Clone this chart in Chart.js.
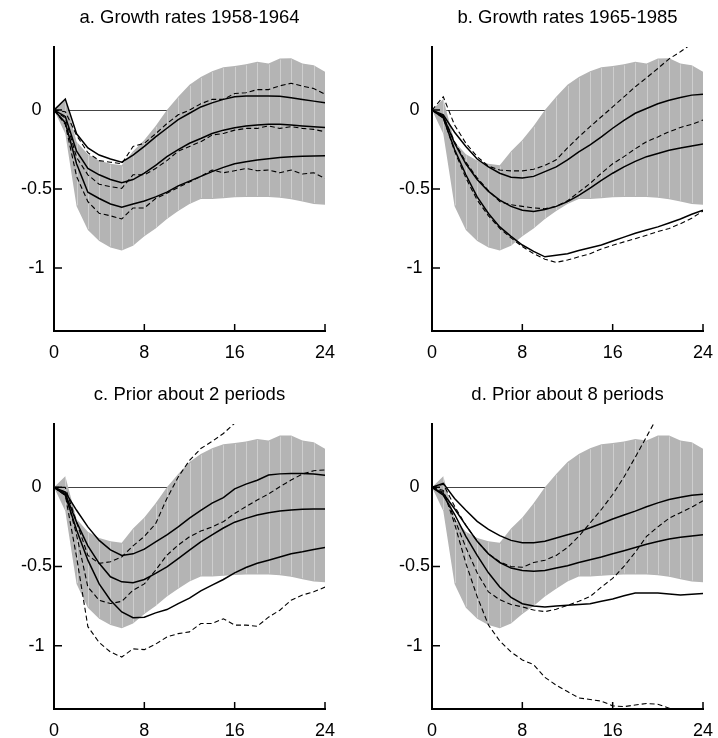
<!DOCTYPE html>
<html>
<head>
<meta charset="utf-8">
<script src="https://cdn.jsdelivr.net/npm/chart.js@4.4.0/dist/chart.umd.min.js"></script>
<style>
  html, body { margin: 0; padding: 0; background: #fff; }
  #wrap { position: relative; width: 718px; height: 738px; overflow: hidden; }
  #wrap canvas { position: absolute; }
</style>
</head>
<body>
<div id="wrap">
  <canvas id="panel-a" width="340" height="360" style="left:0;top:0"></canvas>
  <canvas id="panel-b" width="340" height="360" style="left:378px;top:0"></canvas>
  <canvas id="panel-c" width="340" height="361" style="left:0;top:377px"></canvas>
  <canvas id="panel-d" width="340" height="361" style="left:378px;top:377px"></canvas>
</div>
<script>
/* Impulse responses, 0-24 periods ahead, four panels sharing the same grey band */

const periods = [0, 1, 2, 3, 4, 5, 6, 7, 8, 9, 10, 11, 12, 13, 14, 15, 16, 17, 18, 19, 20, 21, 22, 23, 24];
const xTicks = [0, 8, 16, 24];
const yTicks = [-1, -0.5, 0];

// grey band (same in every panel)
const bandUpper = [0, 0.07, -0.2, -0.28, -0.32, -0.34, -0.35, -0.26, -0.19, -0.1, 0.0, 0.085, 0.16, 0.21, 0.247, 0.272, 0.28, 0.29, 0.306, 0.296, 0.327, 0.328, 0.296, 0.285, 0.243];
const bandLower = [0, -0.15, -0.61, -0.76, -0.83, -0.87, -0.89, -0.86, -0.8, -0.75, -0.69, -0.64, -0.595, -0.563, -0.563, -0.558, -0.553, -0.55, -0.55, -0.55, -0.555, -0.565, -0.58, -0.595, -0.6];

// a. Growth rates 1958-1964
const aSolidTop = [0, 0.07, -0.15, -0.24, -0.285, -0.31, -0.33, -0.285, -0.23, -0.17, -0.115, -0.06, -0.02, 0.02, 0.046, 0.068, 0.084, 0.09, 0.09, 0.09, 0.088, 0.078, 0.068, 0.057, 0.046];
const aSolidMid = [0, -0.04, -0.26, -0.37, -0.41, -0.44, -0.46, -0.44, -0.4, -0.35, -0.295, -0.25, -0.21, -0.18, -0.148, -0.127, -0.112, -0.1, -0.095, -0.09, -0.09, -0.095, -0.1, -0.105, -0.11];
const aSolidLow = [0, -0.08, -0.34, -0.52, -0.56, -0.595, -0.615, -0.595, -0.576, -0.55, -0.52, -0.48, -0.45, -0.42, -0.39, -0.363, -0.34, -0.327, -0.316, -0.308, -0.3, -0.295, -0.293, -0.291, -0.289];
const aDashTop = [0, -0.01, -0.16, -0.27, -0.32, -0.33, -0.34, -0.23, -0.21, -0.15, -0.085, -0.03, 0.0, 0.04, 0.068, 0.068, 0.105, 0.11, 0.13, 0.13, 0.154, 0.17, 0.152, 0.137, 0.1];
const aDashMid = [0, -0.05, -0.3, -0.41, -0.47, -0.485, -0.496, -0.41, -0.41, -0.37, -0.32, -0.26, -0.23, -0.2, -0.158, -0.148, -0.127, -0.116, -0.116, -0.1, -0.116, -0.105, -0.116, -0.122, -0.137];
const aDashLow = [0, -0.09, -0.42, -0.58, -0.654, -0.67, -0.69, -0.62, -0.62, -0.56, -0.527, -0.49, -0.455, -0.42, -0.38, -0.397, -0.384, -0.37, -0.384, -0.38, -0.397, -0.38, -0.405, -0.397, -0.432];

// b. Growth rates 1965-1985
const bSolidTop = [0, -0.03, -0.14, -0.23, -0.31, -0.36, -0.4, -0.425, -0.43, -0.42, -0.39, -0.36, -0.315, -0.265, -0.22, -0.17, -0.115, -0.065, -0.02, 0.01, 0.04, 0.063, 0.08, 0.095, 0.1];
const bSolidMid = [0, -0.04, -0.21, -0.34, -0.44, -0.515, -0.57, -0.61, -0.635, -0.643, -0.63, -0.61, -0.58, -0.54, -0.495, -0.445, -0.4, -0.36, -0.325, -0.295, -0.275, -0.255, -0.24, -0.227, -0.215];
const bSolidLow = [0, -0.05, -0.25, -0.41, -0.55, -0.655, -0.74, -0.8, -0.855, -0.895, -0.93, -0.92, -0.91, -0.89, -0.873, -0.855, -0.83, -0.805, -0.78, -0.76, -0.74, -0.715, -0.69, -0.66, -0.634];
const bDashTop = [0, 0.085, -0.095, -0.21, -0.295, -0.355, -0.38, -0.385, -0.385, -0.375, -0.35, -0.315, -0.24, -0.17, -0.105, -0.042, 0.02, 0.084, 0.148, 0.205, 0.264, 0.325, 0.37, 0.42, 0.47];
const bDashMid = [0, -0.04, -0.2, -0.33, -0.43, -0.51, -0.58, -0.6, -0.61, -0.62, -0.625, -0.61, -0.575, -0.52, -0.465, -0.4, -0.34, -0.295, -0.245, -0.2, -0.17, -0.137, -0.11, -0.09, -0.063];
const bDashLow = [0, -0.05, -0.26, -0.43, -0.57, -0.67, -0.75, -0.81, -0.865, -0.91, -0.945, -0.965, -0.95, -0.93, -0.91, -0.88, -0.857, -0.835, -0.815, -0.793, -0.77, -0.75, -0.72, -0.685, -0.64];

// c. Prior about 2 periods
const cSolidTop = [0, -0.03, -0.145, -0.25, -0.335, -0.395, -0.43, -0.42, -0.39, -0.345, -0.3, -0.25, -0.195, -0.145, -0.1, -0.065, -0.01, 0.02, 0.045, 0.078, 0.085, 0.088, 0.088, 0.084, 0.076];
const cSolidMid = [0, -0.04, -0.22, -0.37, -0.48, -0.565, -0.597, -0.603, -0.582, -0.544, -0.502, -0.45, -0.397, -0.344, -0.3, -0.257, -0.22, -0.196, -0.175, -0.16, -0.15, -0.143, -0.139, -0.137, -0.137];
const cSolidLow = [0, -0.05, -0.27, -0.46, -0.61, -0.713, -0.787, -0.823, -0.82, -0.793, -0.772, -0.734, -0.7, -0.654, -0.618, -0.582, -0.54, -0.506, -0.48, -0.46, -0.44, -0.42, -0.407, -0.392, -0.38];
const cDashTop = [0, 0.0, -0.22, -0.43, -0.48, -0.47, -0.44, -0.37, -0.31, -0.23, -0.07, 0.065, 0.17, 0.245, 0.29, 0.34, 0.405, 0.47, null, null, null, null, null, null, null];
const cDashMid = [0, -0.03, -0.3, -0.63, -0.713, -0.734, -0.72, -0.65, -0.61, -0.523, -0.428, -0.365, -0.312, -0.276, -0.25, -0.217, -0.165, -0.122, -0.08, -0.042, 0.004, 0.046, 0.084, 0.105, 0.11];
const cDashLow = [0, -0.05, -0.44, -0.88, -0.98, -1.04, -1.072, -1.02, -1.025, -0.99, -0.945, -0.924, -0.913, -0.86, -0.86, -0.83, -0.87, -0.87, -0.878, -0.82, -0.776, -0.713, -0.68, -0.66, -0.63];

// d. Prior about 8 periods
const dSolidTop = [0, 0.025, -0.07, -0.145, -0.215, -0.265, -0.305, -0.335, -0.35, -0.35, -0.34, -0.32, -0.3, -0.28, -0.255, -0.228, -0.2, -0.175, -0.15, -0.123, -0.098, -0.077, -0.062, -0.05, -0.043];
const dSolidMid = [0, -0.04, -0.135, -0.24, -0.34, -0.42, -0.475, -0.51, -0.525, -0.53, -0.525, -0.51, -0.495, -0.475, -0.458, -0.44, -0.42, -0.4, -0.38, -0.36, -0.342, -0.327, -0.315, -0.307, -0.3];
const dSolidLow = [0, -0.05, -0.17, -0.31, -0.43, -0.54, -0.63, -0.695, -0.735, -0.75, -0.755, -0.75, -0.745, -0.74, -0.735, -0.72, -0.705, -0.685, -0.668, -0.668, -0.668, -0.673, -0.68, -0.675, -0.67];
const dDashTop = [0, 0.02, -0.12, -0.24, -0.34, -0.42, -0.47, -0.5, -0.505, -0.475, -0.46, -0.43, -0.38, -0.31, -0.225, -0.14, -0.045, 0.065, 0.19, 0.32, 0.45, null, null, null, null];
const dDashMid = [0, -0.03, -0.2, -0.38, -0.54, -0.66, -0.71, -0.74, -0.755, -0.775, -0.785, -0.77, -0.745, -0.72, -0.69, -0.63, -0.575, -0.5, -0.41, -0.31, -0.25, -0.195, -0.16, -0.125, -0.085];
const dDashLow = [0, -0.02, -0.23, -0.48, -0.69, -0.87, -0.97, -1.04, -1.09, -1.12, -1.2, -1.25, -1.29, -1.33, -1.34, -1.35, -1.38, -1.385, -1.375, -1.365, -1.37, -1.395, -1.43, -1.46, -1.49];

const panels = [
  { id: 'panel-a', title: 'a. Growth rates 1958-1964', solid: [aSolidTop, aSolidMid, aSolidLow], dashed: [aDashTop, aDashMid, aDashLow] },
  { id: 'panel-b', title: 'b. Growth rates 1965-1985', solid: [bSolidTop, bSolidMid, bSolidLow], dashed: [bDashTop, bDashMid, bDashLow] },
  { id: 'panel-c', title: 'c. Prior about 2 periods', solid: [cSolidTop, cSolidMid, cSolidLow], dashed: [cDashTop, cDashMid, cDashLow] },
  { id: 'panel-d', title: 'd. Prior about 8 periods', solid: [dSolidTop, dSolidMid, dSolidLow], dashed: [dDashTop, dDashMid, dDashLow] }
];

const toPoints = vals => periods.map((p, i) => ({ x: p, y: vals[i] }));

// zero line under the band, light seams in the band, inward tick marks
const panelDecor = {
  id: 'panelDecor',
  beforeDatasetsDraw(chart) {
    const { ctx, chartArea, scales: { y } } = chart;
    const y0 = Math.round(y.getPixelForValue(0)) + 0.5;
    ctx.save();
    ctx.strokeStyle = '#444';
    ctx.lineWidth = 1;
    ctx.beginPath();
    ctx.moveTo(chartArea.left, y0);
    ctx.lineTo(chartArea.right, y0);
    ctx.stroke();
    ctx.restore();
  },
  afterDatasetDraw(chart, args) {
    if (args.index !== 0) return;
    const { ctx, scales: { x, y } } = chart;
    ctx.save();
    ctx.strokeStyle = 'rgba(255,255,255,0.35)';
    ctx.lineWidth = 1;
    periods.forEach((p, i) => {
      if (i === 0 || i === periods.length - 1) return;
      const px = Math.round(x.getPixelForValue(p)) + 0.5;
      ctx.beginPath();
      ctx.moveTo(px, y.getPixelForValue(bandUpper[i]) + 1);
      ctx.lineTo(px, y.getPixelForValue(bandLower[i]) - 1);
      ctx.stroke();
    });
    ctx.restore();
  },
  afterDraw(chart) {
    const { ctx, chartArea, scales: { x, y } } = chart;
    ctx.save();
    ctx.strokeStyle = '#000';
    ctx.lineWidth = 1.5;
    ctx.beginPath();
    xTicks.forEach(v => {
      if (v === 0) return;
      const px = x.getPixelForValue(v);
      ctx.moveTo(px, chartArea.bottom);
      ctx.lineTo(px, chartArea.bottom - 7);
    });
    yTicks.forEach(v => {
      const py = y.getPixelForValue(v);
      ctx.moveTo(chartArea.left, py);
      ctx.lineTo(chartArea.left + 8, py);
    });
    ctx.stroke();
    ctx.restore();
  }
};

Chart.defaults.font.family = "'Liberation Sans', Arial, sans-serif";
Chart.defaults.color = '#000';

function makePanel(panel) {
  const lineSets = [];
  panel.solid.forEach(vals => lineSets.push({
    data: toPoints(vals), borderColor: '#000', borderWidth: 1.5,
    pointRadius: 0, fill: false, order: 0
  }));
  panel.dashed.forEach(vals => lineSets.push({
    data: toPoints(vals), borderColor: '#000', borderWidth: 1.1, borderDash: [5, 3],
    pointRadius: 0, fill: false, order: 0
  }));

  new Chart(document.getElementById(panel.id), {
    type: 'line',
    data: {
      datasets: [
        { data: toPoints(bandUpper), backgroundColor: '#b4b4b4', borderWidth: 0, pointRadius: 0, fill: '+1', order: 10 },
        { data: toPoints(bandLower), backgroundColor: '#b4b4b4', borderWidth: 0, pointRadius: 0, fill: false, order: 10 },
        ...lineSets
      ]
    },
    options: {
      responsive: false,
      animation: false,
      devicePixelRatio: 1,
      layout: { padding: { left: 0, right: 15, top: 0, bottom: 0 } },
      plugins: {
        legend: { display: false },
        tooltip: { enabled: false },
        title: {
          display: true,
          text: panel.title,
          fullSize: false,
          color: '#000',
          font: { size: 18.5, weight: 'normal' },
          padding: { top: 7, bottom: 17.8 }
        }
      },
      scales: {
        x: {
          type: 'linear',
          min: 0,
          max: 24,
          afterBuildTicks: s => { s.ticks = xTicks.map(v => ({ value: v })); },
          afterFit: s => { s.height = 29; },
          grid: { display: false },
          border: { display: true, color: '#000', width: 2 },
          ticks: { font: { size: 18 }, color: '#000', padding: 3, maxRotation: 0, autoSkip: false }
        },
        y: {
          min: -1.4,
          max: 0.4,
          afterBuildTicks: s => { s.ticks = yTicks.map(v => ({ value: v })); },
          afterFit: s => { s.width = 54; },
          grid: { display: false },
          border: { display: true, color: '#000', width: 2 },
          ticks: { font: { size: 18 }, color: '#000', padding: -6, crossAlign: 'center', callback: v => String(v) }
        }
      }
    },
    plugins: [panelDecor]
  });
}

panels.forEach(p => {
  try { makePanel(p); } catch (err) { console.error('Panel failed:', p.id, err); }
});
</script>
</body>
</html>
